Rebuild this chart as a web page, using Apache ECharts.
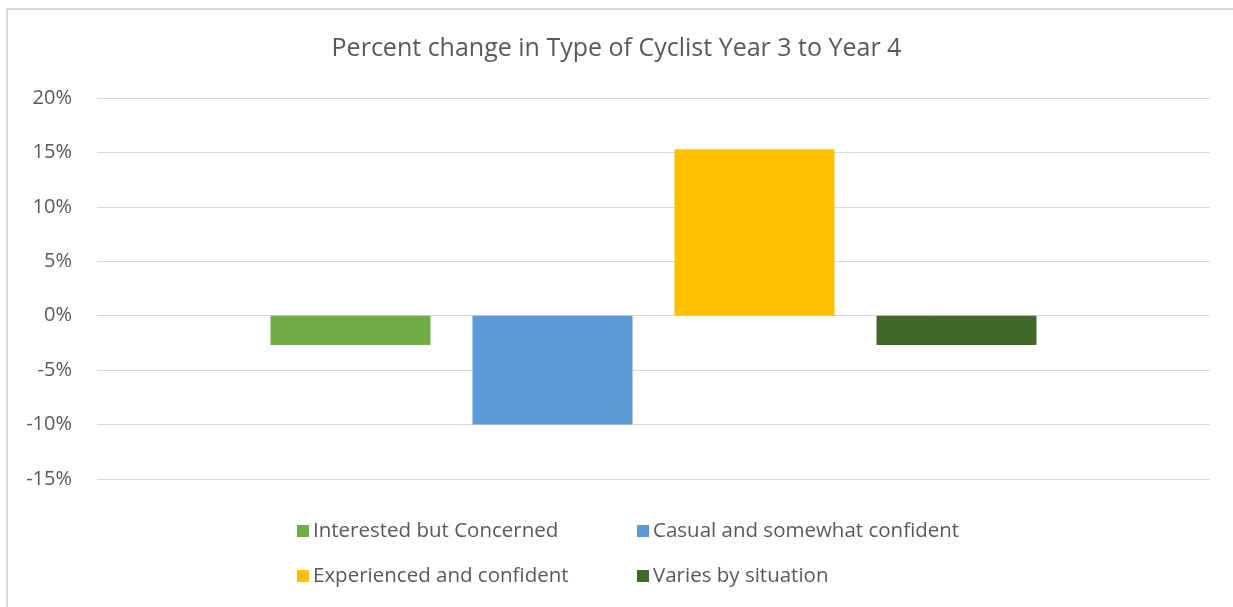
<!DOCTYPE html>
<html>
<head>
<meta charset="utf-8">
<script src="https://cdn.jsdelivr.net/npm/echarts@6/dist/echarts.min.js"></script>
<style>
html,body{margin:0;padding:0;background:#fff;overflow:hidden;}
#chart{width:1233px;height:607px;}
</style>
</head>
<body>
<div id="chart"></div>
<script>
const titleText = 'Percent change in Type of Cyclist Year 3 to Year 4';
const categories = ['Year 3 to Year 4'];
const seriesNames = ['Interested but Concerned', 'Casual and somewhat confident', 'Experienced and confident', 'Varies by situation'];
const seriesColors = ['#70AD47', '#5B9BD5', '#FFC000', '#43682B'];
const seriesValues = [[-2.7], [-10.0], [15.3], [-2.7]];
const yTicks = { min: -15, max: 20, interval: 5 };

const FONT = 'Open Sans';
const chart = echarts.init(document.getElementById('chart'));
chart.setOption({
  animation: false,
  backgroundColor: '#fff',
  textStyle: { fontFamily: FONT },
  title: {
    text: titleText,
    left: 'center',
    top: 29,
    textStyle: { fontFamily: FONT, fontSize: 25, fontWeight: 'normal', color: '#595959', lineHeight: 30 }
  },
  graphic: [
    {
      type: 'line',
      shape: { x1: 7, y1: 9, x2: 1300, y2: 9 },
      style: { stroke: '#d9d9d9', lineWidth: 2 },
      silent: true
    },
    {
      type: 'line',
      shape: { x1: 7, y1: 8, x2: 7, y2: 700 },
      style: { stroke: '#d9d9d9', lineWidth: 2 },
      silent: true
    }
  ],
  legend: [
    {
      orient: 'vertical', left: 292, top: 514, itemWidth: 12, itemHeight: 12, itemGap: 21,
      icon: 'rect', data: [seriesNames[0], seriesNames[2]],
      textStyle: { fontFamily: FONT, fontSize: 20.5, color: '#595959', lineHeight: 24, padding: [0, 0, 0, -1] }
    },
    {
      orient: 'vertical', left: 632, top: 514, itemWidth: 12, itemHeight: 12, itemGap: 21,
      icon: 'rect', data: [seriesNames[1], seriesNames[3]],
      textStyle: { fontFamily: FONT, fontSize: 20.5, color: '#595959', lineHeight: 24, padding: [0, 0, 0, -1] }
    }
  ],
  grid: { left: 97, right: 23, top: 98, bottom: 128, containLabel: false },
  xAxis: {
    type: 'category',
    data: categories,
    axisLine: { show: false },
    axisTick: { show: false },
    axisLabel: { show: false }
  },
  yAxis: {
    type: 'value',
    min: yTicks.min, max: yTicks.max, interval: yTicks.interval,
    axisLine: { show: false },
    axisTick: { show: false },
    axisLabel: { formatter: v => v + '%', fontFamily: FONT, fontSize: 20, color: '#595959', margin: 25 },
    splitLine: { lineStyle: { color: '#d9d9d9', width: 1 } }
  },
  series: seriesNames.map((name, i) => ({
    name: name,
    type: 'bar',
    data: seriesValues[i],
    barWidth: 160,
    barGap: '26.25%',
    itemStyle: { color: seriesColors[i] }
  }))
});
</script>
</body>
</html>
